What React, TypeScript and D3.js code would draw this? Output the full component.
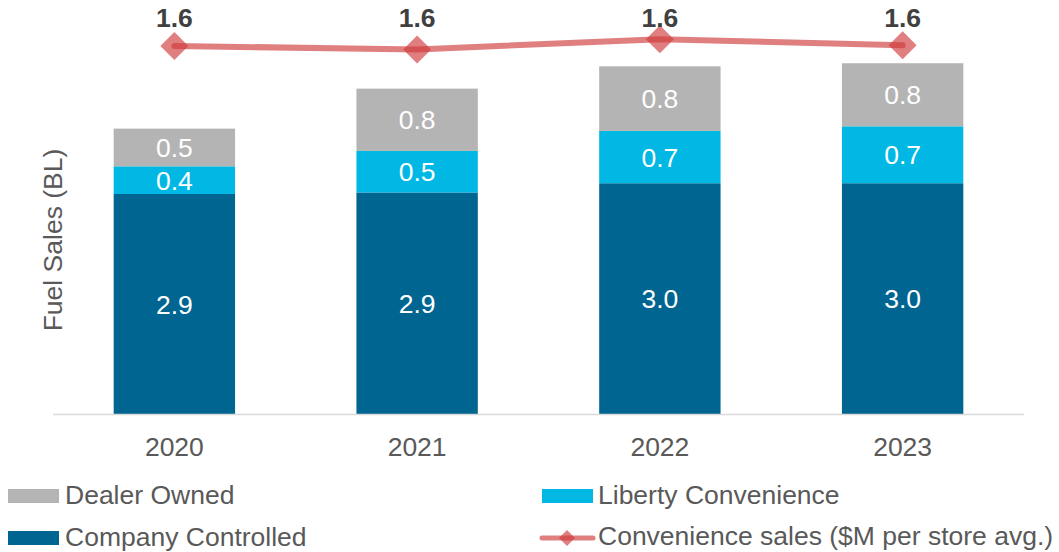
import React from "react";
import * as d3 from "d3";

const years = ["2020", "2021", "2022", "2023"];
const companyControlled = [2.86, 2.88, 3.0, 3.0];
const libertyConvenience = [0.36, 0.54, 0.68, 0.74];
const dealerOwned = [0.49, 0.81, 0.84, 0.82];
const convenienceSales = [1.61, 1.595, 1.64, 1.613];

const seriesNames = ["Company Controlled", "Liberty Convenience", "Dealer Owned"];
const seriesColors = ["#006591", "#00B8E3", "#B4B4B4"];

const W = 1059;
const H = 552;
const FONT = "'Liberation Sans', Arial, Helvetica, sans-serif";
const FS = 26.5;

export default function App() {
  const left = 53;
  const right = 1024;
  const top = 14;
  const bottom = 414;

  const x = d3.scaleBand<string>().domain(years).range([left, right]).paddingInner(0.5).paddingOuter(0.25);
  const y = d3.scaleLinear().domain([0, 5.2]).range([bottom, top]);
  const y2 = d3.scaleLinear().domain([0, 1.75]).range([bottom, top]);

  const table = years.map((yr, i) => ({
    year: yr,
    "Company Controlled": companyControlled[i],
    "Liberty Convenience": libertyConvenience[i],
    "Dealer Owned": dealerOwned[i],
  }));
  const stack = d3.stack<any>().keys(seriesNames)(table);

  const line = d3
    .line<number>()
    .x((_, i) => (x(years[i]) as number) + x.bandwidth() / 2)
    .y((d) => y2(d));

  const diamond = (cx: number, cy: number, r: number) =>
    `M${cx},${cy - r}L${cx + r},${cy}L${cx},${cy + r}L${cx - r},${cy}Z`;

  const lineColor = "rgb(208,58,58)";

  return (
    <svg width={W} height={H} style={{ position: "absolute", left: 0, top: 0, background: "#fff" }} fontFamily={FONT}>
      {/* bars */}
      {stack.map((s, si) => (
        <g key={si}>
          {s.map((d, i) => {
            const x0 = x(years[i]) as number;
            const y0 = y(d[1]);
            const h = y(d[0]) - y(d[1]);
            const val = d[1] - d[0];
            return (
              <g key={i}>
                <rect x={x0} y={y0} width={x.bandwidth()} height={h} fill={seriesColors[si]} />
                <text
                  x={x0 + x.bandwidth() / 2}
                  y={y0 + h / 2}
                  dy="0.36em"
                  textAnchor="middle"
                  fontSize={FS}
                  fill="#ffffff"
                >
                  {val.toFixed(1)}
                </text>
              </g>
            );
          })}
        </g>
      ))}

      {/* x axis */}
      <line x1={left} x2={right} y1={bottom + 0.5} y2={bottom + 0.5} stroke="#D9D9D9" strokeWidth={1.5} />
      {years.map((yr) => (
        <text
          key={yr}
          x={(x(yr) as number) + x.bandwidth() / 2}
          y={456}
          textAnchor="middle"
          fontSize={FS}
          fill="#595959"
        >
          {yr}
        </text>
      ))}

      {/* y title */}
      <text
        transform={`translate(62,240) rotate(-90)`}
        textAnchor="middle"
        fontSize={FS}
        fill="#595959"
      >
        Fuel Sales (BL)
      </text>

      {/* line */}
      <path
        d={line(convenienceSales) || ""}
        fill="none"
        stroke={lineColor}
        strokeOpacity={0.65}
        strokeWidth={6}
        strokeLinecap="round"
        strokeLinejoin="round"
      />
      {convenienceSales.map((v, i) => {
        const cx = (x(years[i]) as number) + x.bandwidth() / 2;
        const cy = y2(v);
        return (
          <g key={i}>
            <path d={diamond(cx, cy, 14)} fill={lineColor} fillOpacity={0.65} />
            <text x={cx} y={27} textAnchor="middle" fontSize={FS} fontWeight="bold" fill="#404040">
              {v.toFixed(1)}
            </text>
          </g>
        );
      })}

      {/* legend */}
      <g fontSize={FS} fill="#595959">
        <rect x={8} y={489} width={51} height={14} fill={seriesColors[2]} />
        <text x={65} y={504}>Dealer Owned</text>
        <rect x={8} y={531} width={51} height={14} fill={seriesColors[0]} />
        <text x={65} y={546}>Company Controlled</text>
        <rect x={542} y={489} width={51} height={14} fill={seriesColors[1]} />
        <text x={598} y={504}>Liberty Convenience</text>
        <line x1={542} x2={593} y1={538} y2={538} stroke={lineColor} strokeOpacity={0.65} strokeWidth={5} strokeLinecap="round" />
        <path d={diamond(567, 538, 8)} fill={lineColor} fillOpacity={0.65} />
        <text x={598} y={545}>Convenience sales ($M per store avg.)</text>
      </g>
    </svg>
  );
}
